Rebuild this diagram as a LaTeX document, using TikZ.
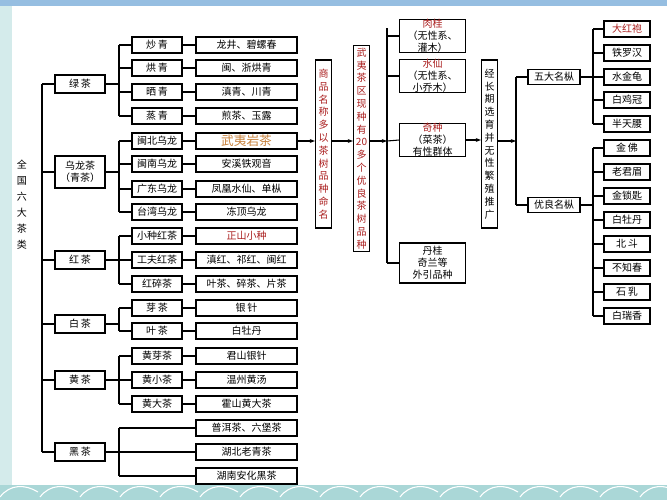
\documentclass[tikz,border=0pt]{standalone}
\usepackage{fontspec}
\setmainfont{Noto Sans CJK SC}
\usetikzlibrary{arrows.meta}
\definecolor{dred}{RGB}{170,30,30}
\definecolor{gold}{RGB}{200,130,60}
\definecolor{bandb}{RGB}{150,190,225}
\definecolor{wave}{RGB}{170,215,215}
\tikzset{
  bx/.style={draw,thick,fill=white,inner sep=0pt,font=\fontsize{7.5}{9}\selectfont,align=center},
  cat/.style={bx,minimum width=37.5pt,minimum height=13.5pt},
  sub/.style={bx,minimum width=37.5pt,minimum height=12pt},
  leaf/.style={bx,minimum width=75.75pt,minimum height=12pt},
  rb/.style={bx,minimum width=34.5pt,minimum height=12pt},
  vb/.style={bx,text width=12pt,font=\fontsize{7.5}{9.6}\selectfont},
  ln/.style={thick},
  ar/.style={thick,-{Stealth[length=4pt]}}
}
\begin{document}
\begin{tikzpicture}[x=0.75pt,y=-0.75pt]
\useasboundingbox (0,0) rectangle (667,500);
\fill[white] (0,0) rectangle (667,500);
\fill[bandb] (0,0) rectangle (667,6);
\fill[wave!50] (0,6) rectangle (12,485);
\fill[wave] (0,485) rectangle (667,500);
\foreach \i in {0,40,...,640}{\draw[white,thick] (\i,497) .. controls (\i+10,484) and (\i+25,484) .. (\i+38,492);}
\node[font=\fontsize{7.5}{12}\selectfont,text width=10pt,align=center] (all) at (22,205) {全\\国\\六\\大\\茶\\类};
\draw[ln] (42,84) -- (42,452);
% categories
\node[cat] (lv) at (80,84) {绿\,茶};
\node[cat,minimum height=24pt] (wl) at (80,172) {乌龙茶\\（青茶）};
\node[cat] (hong) at (80,260) {红\,茶};
\node[cat] (bai) at (80,324) {白\,茶};
\node[cat] (huang) at (80,380) {黄\,茶};
\node[cat] (hei) at (80,452) {黑\,茶};
\foreach \n in {lv,wl,hong,bai,huang,hei}{\draw[ln] (42,0 |- \n.west) -- (\n.west);}
% subs and leaves
\foreach \n/\y/\t/\l/\c in {
 a1/45/炒\,青/龙井、碧螺春/black, a2/68/烘\,青/闽、浙烘青/black, a3/92/晒\,青/滇青、川青/black, a4/116/蒸\,青/煎茶、玉露/black,
 b1/141/闽北乌龙/{\fontsize{9.5}{10}\selectfont 武夷岩茶}/gold, b2/164/闽南乌龙/安溪铁观音/black, b3/189/广东乌龙/凤凰水仙、单枞/black, b4/212/台湾乌龙/冻顶乌龙/black,
 c1/236/小种红茶/正山小种/dred, c2/260/工夫红茶/滇红、祁红、闽红/black, c3/284/红碎茶/叶茶、碎茶、片茶/black,
 d1/308/芽\,茶/银\,针/black, d2/331/叶\,茶/白牡丹/black,
 e1/356/黄芽茶/君山银针/black, e2/380/黄小茶/温州黄汤/black, e3/404/黄大茶/霍山黄大茶/black}{
 \node[sub] (s\n) at (157,\y) {\t};
 \node[leaf,text=\c] (l\n) at (246.5,\y) {\l};
 \draw[ln] (s\n.east) -- (l\n.west);
 \draw[ln] (119,\y) -- (s\n.west);
}
\draw[ln] (lv.east) -- (119,84); \draw[ln] (119,45) -- (119,116);
\draw[ln] (wl.east) -- (119,172); \draw[ln] (119,141) -- (119,212);
\draw[ln] (hong.east) -- (119,260); \draw[ln] (119,236) -- (119,284);
\draw[ln] (bai.east) -- (119,324); \draw[ln] (119,308) -- (119,331);
\draw[ln] (huang.east) -- (119,380); \draw[ln] (119,356) -- (119,404);
% black tea
\node[leaf] (f1) at (246.5,428) {普洱茶、六堡茶};
\node[leaf] (f2) at (246.5,452) {湖北老青茶};
\node[leaf] (f3) at (246.5,476) {湖南安化黑茶};
\draw[ln] (hei.east) -- (f2.west);
\draw[ln] (119,428) -- (119,476);
\draw[ln] (119,428) -- (f1.west); \draw[ln] (119,476) -- (f3.west);
% right part
\node[vb,text=dred,minimum height=126pt] (sp) at (323.5,144) {商\\品\\名\\称\\多\\以\\茶\\树\\品\\种\\命\\名};
\node[vb,text=dred,minimum height=155pt] (wy) at (361.5,148.5) {武\\夷\\茶\\区\\现\\种\\有\\20\\多\\个\\优\\良\\茶\\树\\品\\种};
\draw[ar] (lb1.east) -- (sp.west |- lb1);
\draw[ar] (sp.east |- lb1) -- (wy.west |- lb1);
\coordinate (j1) at (387,141);
\draw[ar] (wy.east |- j1) -- (j1);
\draw[ln] (387,28) -- (387,263);
\node[bx,minimum width=49pt,minimum height=24pt] (rg) at (432.5,36) {\textcolor{dred}{肉桂}\\（无性系、\\灌木）};
\node[bx,minimum width=49pt,minimum height=24pt] (sx) at (432.5,76) {\textcolor{dred}{水仙}\\（无性系、\\小乔木）};
\node[bx,minimum width=49pt,minimum height=24pt] (qz) at (432.5,140) {\textcolor{dred}{奇种}\\（菜茶）\\有性群体};
\node[bx,minimum width=49pt,minimum height=30pt] (dg) at (432.5,263) {丹桂\\奇兰等\\外引品种};
\foreach \n in {rg,sx,dg}{\draw[ln] (387,0 |- \n.west) -- (\n.west);}
\draw[ln] (j1) -- (qz.west);
\node[vb,minimum height=126pt] (jc) at (489.5,144) {经\\长\\期\\选\\育\\并\\无\\性\\繁\\殖\\推\\广};
\draw[ar] (qz.east) -- (jc.west |- qz);
\coordinate (j2) at (516,141);
\draw[ar] (jc.east |- j2) -- (j2);
\draw[ln] (516,77) -- (516,205);
\node[bx,minimum width=39pt,minimum height=11pt] (wd) at (554,77) {五大名枞};
\node[bx,minimum width=39pt,minimum height=11pt] (yl) at (554,205) {优良名枞};
\draw[ln] (516,77) -- (wd.west); \draw[ln] (516,205) -- (yl.west);
\draw[ln] (593,29) -- (593,124); \draw[ln] (593,148) -- (593,316);
\draw[ln] (wd.east) -- (593,77); \draw[ln] (yl.east) -- (593,205);
\foreach \n/\y/\t/\c in {r1/29/大红袍/dred, r2/53/铁罗汉/black, r3/77/水金龟/black, r4/100/白鸡冠/black, r5/124/半天腰/black,
 g1/148/金\,佛/black, g2/172/老君眉/black, g3/196/金锁匙/black, g4/220/白牡丹/black, g5/244/北\,斗/black, g6/268/不知春/black, g7/292/石\,乳/black, g8/316/白瑞香/black}{
 \node[rb,text=\c] (\n) at (627,\y) {\t};
 \draw[ln] (593,\y) -- (\n.west);
}
\end{tikzpicture}
\end{document}
